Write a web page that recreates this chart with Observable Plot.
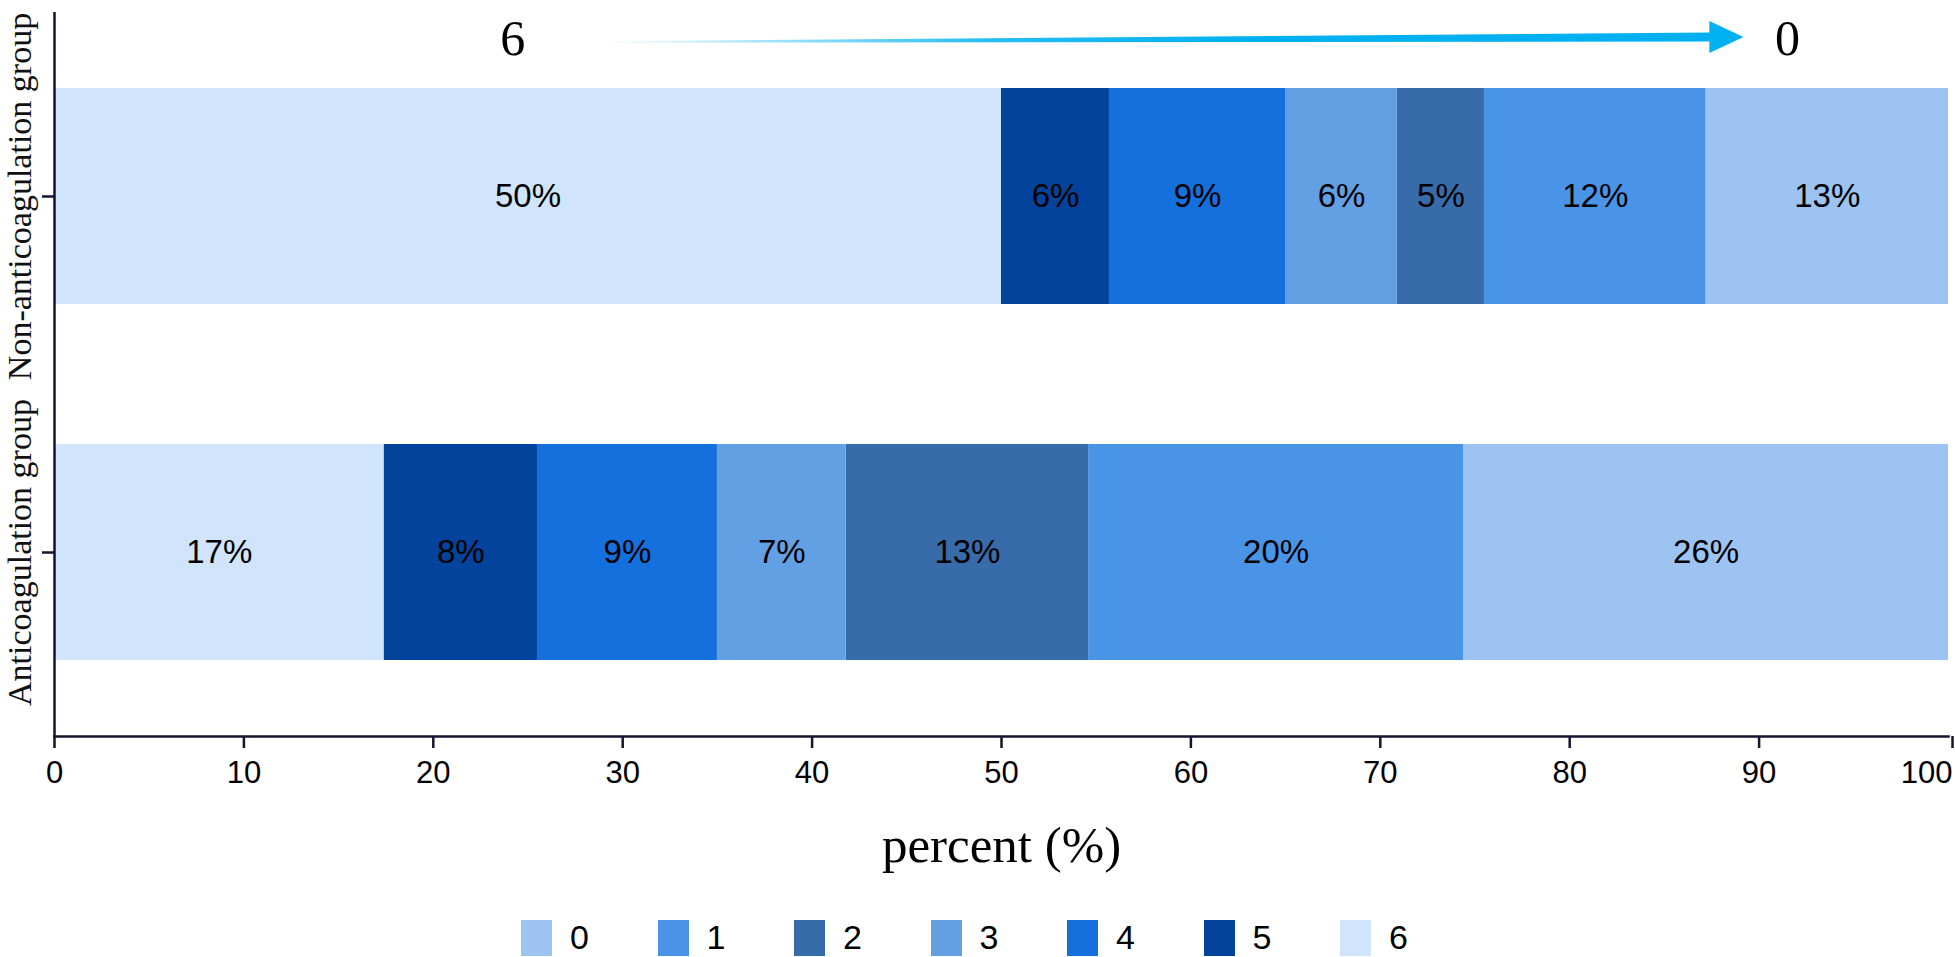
<!DOCTYPE html>
<html>
<head>
<meta charset="utf-8">
<script src="https://cdn.jsdelivr.net/npm/d3@7"></script>
<script src="https://cdn.jsdelivr.net/npm/@observablehq/plot@0.6"></script>
<style>
  html, body { margin: 0; padding: 0; background: #fff; }
  #legend { display: flex; justify-content: flex-start; padding-top: 18px; padding-left: 521px; height: 39px; box-sizing: content-box;
            font-family: "Liberation Sans", Arial, sans-serif; font-size: 34px; color: #000; }
  .item { display: flex; align-items: center; width: 136.5px; }
  .sw { width: 31px; height: 36px; margin-right: 18px; }
</style>
</head>
<body>
<div id="chart"></div>
<div id="legend"></div>
<script>
// ---- data ----
const groups = ["Non-anticoagulation group", "Anticoagulation group"];
const categories = ["0", "1", "2", "3", "4", "5", "6"];
const stackOrder = ["6", "5", "4", "3", "2", "1", "0"];
// values by category 0..6 (percent)
const nonAntiValues = [12.8, 11.7, 4.6, 5.9, 9.3, 5.7, 50.0];
const antiValues    = [25.6, 19.8, 12.8, 6.8, 9.5, 8.1, 17.4];
const nonAntiLabels = ["13%", "12%", "5%", "6%", "9%", "6%", "50%"];
const antiLabels    = ["26%", "20%", "13%", "7%", "9%", "8%", "17%"];
const colors = ["#9DC3F2", "#4A94E8", "#386BAA", "#639FE3", "#1470DC", "#03439B", "#D0E5FC"];
const xTicks = [0, 10, 20, 30, 40, 50, 60, 70, 80, 90];
const xLastTick = [100];
const arrowLabels = ["6", "0"];
const arrowLabelX = [24.2, 91.5];
const arrowStartX = 28.8, arrowHeadBaseX = 87.4, arrowTipX = 89.2;

const rows = [];
categories.forEach((c, i) => {
  rows.push({group: groups[0], cat: c, value: nonAntiValues[i], label: nonAntiLabels[i]});
  rows.push({group: groups[1], cat: c, value: antiValues[i], label: antiLabels[i]});
});

const axisColor = "#15152e";
const serif = "'Liberation Serif', 'DejaVu Serif', serif";

const chart = Plot.plot({
  width: 1955,
  height: 900,
  marginLeft: 54,
  marginRight: 7,
  marginTop: 12,
  marginBottom: 164,
  style: {fontFamily: "'Liberation Sans', Arial, sans-serif", background: "#fff"},
  x: {domain: [0, 100]},
  y: {domain: groups, paddingInner: 0.393, paddingOuter: 0.213, axis: null},
  color: {domain: categories, range: colors},
  marks: [
    Plot.barX(rows, Plot.stackX({x: "value", y: "group", z: "cat", fill: "cat", order: stackOrder})),
    Plot.text(rows, Plot.stackX({x: "value", y: "group", z: "cat", order: stackOrder, text: "label",
      fontSize: 33, fill: "#000"})),
    Plot.axisY({tickSize: 12, tickFormat: () => "", label: null, stroke: axisColor, strokeWidth: 2.5}),
    Plot.text(groups, {y: d => d, text: d => d, frameAnchor: "left", dx: -34, rotate: -90,
      textAnchor: "middle", lineAnchor: "middle", fontFamily: serif, fontSize: 34, fill: "#111"}),
    Plot.axisX({ticks: xTicks, tickSize: 12, tickPadding: 12, fontSize: 31, label: null,
      stroke: axisColor, strokeWidth: 2.5, fill: "#000"}),
    Plot.axisX({ticks: xLastTick, tickSize: 12, tickPadding: 12, fontSize: 31, label: null,
      stroke: axisColor, strokeWidth: 2.5, fill: "#000", textAnchor: "end", dx: 4}),
    Plot.ruleX([0], {stroke: axisColor, strokeWidth: 2.5}),
    Plot.frame({anchor: "bottom", stroke: axisColor, strokeWidth: 2.5}),
    Plot.text(["percent (%)"], {frameAnchor: "bottom", dy: 109, text: d => d, fontFamily: serif,
      fontSize: 51, fill: "#000", lineAnchor: "middle"}),
    Plot.text(arrowLabels, {x: (d, i) => arrowLabelX[i], text: d => d, frameAnchor: "top", dy: 26,
      fontFamily: serif, fontSize: 50, fill: "#000", lineAnchor: "middle"})
  ]
});
document.getElementById("chart").appendChild(chart);

// gradient tapered arrow, positioned via the x scale
(function () {
  const sx = chart.scale("x");
  const x0 = sx.apply(arrowStartX), xb = sx.apply(arrowHeadBaseX), xt = sx.apply(arrowTipX);
  const ns = "http://www.w3.org/2000/svg";
  const defs = document.createElementNS(ns, "defs");
  defs.innerHTML = `<linearGradient id="arrowGrad" gradientUnits="userSpaceOnUse" x1="${x0}" y1="0" x2="${xb}" y2="0">
      <stop offset="0" stop-color="#00B0F0" stop-opacity="0"/>
      <stop offset="0.35" stop-color="#00B0F0" stop-opacity="0.85"/>
      <stop offset="0.6" stop-color="#00B0F0" stop-opacity="1"/>
      <stop offset="1" stop-color="#00B0F0" stop-opacity="1"/></linearGradient>`;
  chart.insertBefore(defs, chart.firstChild);
  const yl = 42, yr = 37;
  const poly = document.createElementNS(ns, "polygon");
  const pts = [
    [x0, yl - 0.8], [xb, yr - 4.5], [xb, yr - 16], [xt, yr], [xb, yr + 16], [xb, yr + 4.5], [x0, yl + 0.8]
  ];
  poly.setAttribute("points", pts.map(p => p.join(",")).join(" "));
  poly.setAttribute("fill", "url(#arrowGrad)");
  chart.appendChild(poly);
})();

// legend
const legend = document.getElementById("legend");
categories.forEach((c, i) => {
  const item = document.createElement("div");
  item.className = "item";
  item.innerHTML = `<div class="sw" style="background:${colors[i]}"></div><span>${c}</span>`;
  legend.appendChild(item);
});
</script>
</body>
</html>
